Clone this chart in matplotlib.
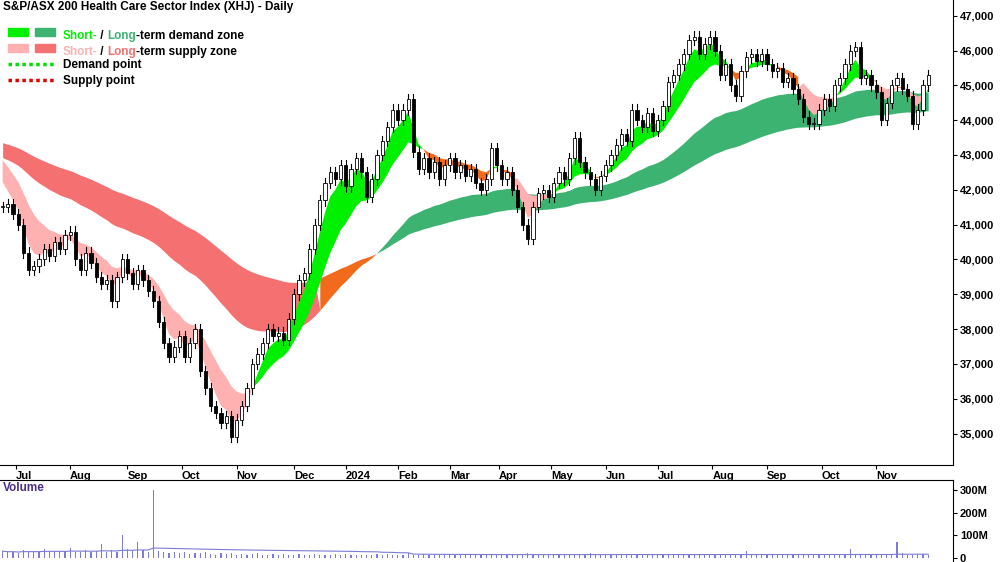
import numpy as np
import pandas as pd
import matplotlib
matplotlib.use("Agg")
import matplotlib.pyplot as plt
from matplotlib.patches import Patch
from matplotlib.lines import Line2D
from matplotlib.legend_handler import HandlerTuple

plt.rcParams["font.family"] = ["Liberation Sans", "DejaVu Sans"]

# closes, one value per two trading days (Jul 2023 - Nov 2024)
closes = [41500, 41600, 41300, 41000, 40200, 39700, 39800, 40000, 40300, 40100,
          40500, 40300, 40700, 40800, 40000, 39700, 40200, 39900, 39500, 39300,
          39400, 38800, 39500, 40000, 39600, 39300, 39700, 39400, 39100, 38800,
          38200, 37600, 37200, 37500, 37800, 37200, 37600, 38000, 36800, 36300,
          35800, 35600, 35300, 35500, 34900, 35400, 35800, 36300, 37000, 37300,
          37600, 38000, 37800, 37900, 37700, 38300, 39000, 39400, 39600, 40300,
          41000, 41700, 42200, 42500, 42300, 42700, 42100, 42600, 42900, 42500,
          41800, 42300, 43000, 43400, 43800, 44300, 44000, 44300, 44600, 43100,
          42600, 42900, 42500, 42800, 42300, 42700, 42900, 42500, 42700, 42400,
          42600, 42200, 42000, 42300, 43200, 42700, 42300, 42500, 42000, 41500,
          41000, 40600, 41500, 41900, 42000, 41800, 42200, 42500, 42300, 42900,
          43500, 42800, 42500, 42300, 42000, 42400, 42700, 43000, 43300, 43600,
          43400, 44300, 44000, 43800, 44200, 43700, 44000, 44400, 45100, 45300,
          45600, 45900, 46300, 46400, 45900, 46200, 46400, 46000, 45300, 45600,
          45000, 44700, 45400, 45800, 45900, 45700, 45900, 45600, 45400, 45500,
          45100, 45200, 44900, 44600, 44100, 43900, 43900, 44300, 44600, 44400,
          45000, 45200, 45600, 46000, 46100, 45200, 45300, 45000, 44800, 44000,
          44500, 45000, 45200, 44900, 44700, 43900, 44300, 45000, 45300]

volumes = [30, 25, 28, 22, 35, 27, 30, 25, 40, 28, 32, 26, 30, 45, 28, 25, 33, 27, 30, 60,
           28, 35, 25, 100, 40, 30, 70, 35, 28, 300, 30, 25, 22, 28, 20, 25, 18, 22, 20, 25,
           18, 15, 20, 16, 22, 15, 18, 14, 16, 20, 15, 13, 18, 14, 16, 12, 15, 18, 14, 13,
           16, 12, 15, 14, 18, 12, 16, 13, 15, 14, 12, 15, 17, 13, 16, 14, 12, 15, 20, 14,
           13, 16, 12, 15, 14, 13, 16, 12, 15, 18, 14, 13, 16, 12, 15, 14, 18, 13, 16, 14,
           15, 22, 13, 16, 12, 15, 14, 18, 13, 16, 14, 12, 15, 20, 14, 13, 16, 12, 15, 14,
           13, 16, 12, 15, 18, 14, 13, 16, 12, 15, 14, 18, 13, 16, 14, 12, 15, 17, 13, 16,
           14, 12, 15, 30, 14, 13, 16, 12, 15, 14, 13, 16, 12, 15, 18, 14, 13, 16, 12, 15,
           14, 18, 13, 40, 14, 12, 15, 17, 13, 16, 14, 12, 70, 20, 14, 13, 16, 18, 15]

month_labels = ["Jul", "Aug", "Sep", "Oct", "Nov", "Dec", "2024", "Feb", "Mar", "Apr",
                "May", "Jun", "Jul", "Aug", "Sep", "Oct", "Nov"]
month_days = [6, 27, 49, 70, 91, 113, 133, 153, 173, 192, 212, 233, 253, 274, 295, 316, 337]

price_ticks = list(range(35000, 47001, 1000))

C_SHORT_DEM = "#00f000"
C_LONG_DEM = "#3cb371"
C_SHORT_SUP = "#ffb0b0"
C_LONG_SUP = "#f57070"
C_TRANS = "#f26b1d"


def ema(values, span, seed):
    a = 2.0 / (span + 1)
    out = []
    v = seed
    for x in values:
        v = a * x + (1 - a) * v
        out.append(v)
    return np.array(out)


c = np.array(closes, dtype=float)
n = len(c)
days = np.arange(n) * 2 + 1
o = np.concatenate([[c[0]], c[:-1]])
hi = np.maximum(o, c) + 150
lo = np.minimum(o, c) - 150

# guppy-style bands (spans in 2-day steps)
s_fast = ema(c, 4, 42700)
s_slow = ema(c, 12, 43100)
l_fast = ema(c, 40, 43000)
l_slow = ema(c, 80, 43400)

fig = plt.figure(figsize=(10, 5.62), dpi=100)
ax = fig.add_axes([0, 1 - 465 / 562, 0.953, 465 / 562])
axv = fig.add_axes([0, 0, 0.953, 82 / 562])

# long-term band
l_up = l_fast >= l_slow
s_above = np.minimum(s_fast, s_slow) >= np.maximum(l_fast, l_slow) - 200
ax.fill_between(days, l_fast, l_slow, where=l_up, color=C_LONG_DEM, lw=0, interpolate=True)
ax.fill_between(days, l_fast, l_slow, where=~l_up & s_above, color=C_TRANS, lw=0, interpolate=True)
ax.fill_between(days, l_fast, l_slow, where=~l_up & ~s_above, color=C_LONG_SUP, lw=0, interpolate=True)

# short-term band
s_up = s_fast >= s_slow
above_l = np.minimum(s_fast, s_slow) >= np.maximum(l_fast, l_slow)
ax.fill_between(days, s_fast, s_slow, where=s_up, color=C_SHORT_DEM, lw=0, interpolate=True)
ax.fill_between(days, s_fast, s_slow, where=~s_up & above_l, color=C_TRANS, lw=0, interpolate=True)
ax.fill_between(days, s_fast, s_slow, where=~s_up & ~above_l, color=C_SHORT_SUP, lw=0, interpolate=True)

# candles
for d, oo, cc, h, l in zip(days, o, c, hi, lo):
    ax.plot([d, d], [l, h], color="black", lw=0.8, zorder=3)
    face = "white" if cc >= oo else "black"
    bot, top = min(oo, cc), max(oo, cc)
    ax.add_patch(plt.Rectangle((d - 0.6, bot), 1.2, max(top - bot, 30), facecolor=face,
                               edgecolor="black", lw=0.6, zorder=4))

xmax = 953 / 2.6
ax.set_xlim(0, xmax)
ax.set_ylim(34100, 47450)
ax.yaxis.tick_right()
ax.set_yticks(price_ticks)
ax.set_yticklabels([f"{t:,}" for t in price_ticks], fontsize=8, fontweight="bold")
ax.set_xticks(month_days)
ax.set_xticklabels(month_labels, fontsize=8, fontweight="bold", ha="left")
ax.tick_params(axis="x", direction="out", length=3, pad=1)
ax.tick_params(axis="y", direction="out", length=3, pad=2)
for s in ["top", "left"]:
    ax.spines[s].set_visible(False)

ax.text(0.003, 0.997, "S&P/ASX 200 Health Care Sector Index (XHJ) - Daily",
        transform=ax.transAxes, fontsize=8.5, fontweight="bold", va="top")

handles = [
    (Patch(color=C_SHORT_DEM), Patch(color=C_LONG_DEM)),
    (Patch(color=C_SHORT_SUP), Patch(color=C_LONG_SUP)),
    Line2D([0], [0], color="#00e000", lw=2.5, ls=(0, (1, 1))),
    Line2D([0], [0], color="#e00000", lw=2.5, ls=(0, (1, 1))),
]
leg = ax.legend(handles, ["Short- / Long-term demand zone", "Short- / Long-term supply zone",
                          "Demand point", "Supply point"],
                handler_map={tuple: HandlerTuple(ndivide=None, pad=0.6)},
                loc="upper left", bbox_to_anchor=(0.0, 0.96), frameon=False,
                prop={"size": 8.5, "weight": "bold"}, handlelength=4,
                labelspacing=0.35, handletextpad=0.6, borderaxespad=0.3)
txt = leg.get_texts()
txt[0].set_text("")
txt[1].set_text("")

# coloured words in zone labels
fig.canvas.draw()
rend = fig.canvas.get_renderer()
for t, parts in zip(txt[:2], [[("Short-", C_SHORT_DEM), (" / ", "black"), ("Long", C_LONG_DEM),
                                ("-term demand zone", "black")],
                               [("Short-", C_SHORT_SUP), (" / ", "black"), ("Long", C_LONG_SUP),
                                ("-term supply zone", "black")]]):
    bb = t.get_window_extent(rend)
    x0, y0 = bb.x0, (bb.y0 + bb.y1) / 2
    for s, col in parts:
        tt = fig.text(x0 / fig.bbox.width, y0 / fig.bbox.height, s, color=col, fontsize=8.5,
                      fontweight="bold", va="center", ha="left")
        x0 = tt.get_window_extent(rend).x1

# volume panel
vol = np.array(volumes, dtype=float)
axv.bar(days, vol, width=0.5, color="#7b7bd6")
avg = pd.Series(vol).rolling(50, min_periods=1).mean()
axv.plot(days, avg, color="#7b7bd6", lw=0.8)
axv.set_xlim(0, xmax)
axv.set_ylim(-18, 345)
axv.yaxis.tick_right()
axv.set_yticks([0, 100, 200, 300])
axv.set_yticklabels(["0", "100M", "200M", "300M"], fontsize=8, fontweight="bold")
axv.set_xticks([])
axv.tick_params(axis="y", direction="out", length=3, pad=2)
for s in ["left", "bottom"]:
    axv.spines[s].set_visible(False)
axv.text(0.003, 0.97, "Volume", transform=axv.transAxes, fontsize=8.5,
         fontweight="bold", color="#4b2e83", va="top")

fig.savefig("out.png", dpi=100)
